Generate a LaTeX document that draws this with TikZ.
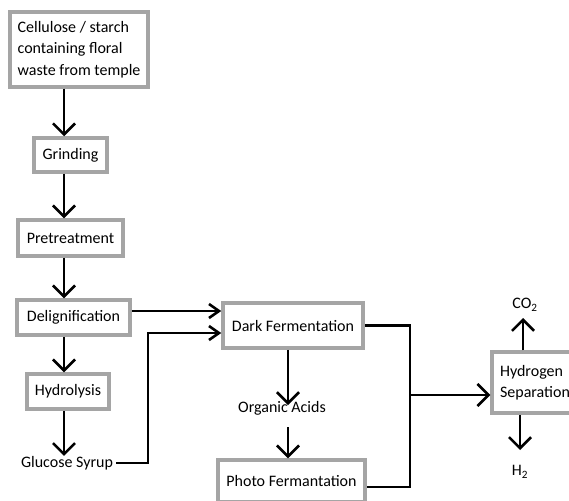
\documentclass[tikz,border=0pt]{standalone}
\usepackage{fontspec}
\setmainfont{Carlito}
\usetikzlibrary{arrows.meta}
\definecolor{boxgray}{RGB}{165,165,165}
\begin{document}
\begin{tikzpicture}[x=1pt,y=-1pt,
  box/.style={draw=boxgray,line width=3.5pt,fill=white,
    font=\fontsize{16}{21.5}\selectfont,inner sep=0pt,minimum height=#1},
  box/.default=35pt,
  lbl/.style={font=\fontsize{16}{21.5}\selectfont,inner sep=0pt},
  conn/.style={line width=2.6pt,black},
  arr/.style={conn,-{Straight Barb[length=11pt,width=22pt,line width=2.6pt]}},
  arrs/.style={conn,-{Straight Barb[length=10pt,width=14pt,line width=2.6pt]}}]
\useasboundingbox (0,0) rectangle (569,500);
\clip (0,0) rectangle (569,500);
\fill[white] (0,0) rectangle (569,500);
% nodes
\node[box=75pt,minimum width=138pt,align=left] (src) at (79,49.5)
  {Cellulose / starch\\containing floral\\waste from temple};
\node[box=34pt,minimum width=73pt] (grind) at (70.5,155) {Grinding};
\node[box=36pt,minimum width=105pt] (pre) at (70.5,238) {Pretreatment};
\node[box=35pt,minimum width=113pt] (del) at (73.5,317.5) {Delignification};
\node[box=35pt,minimum width=82pt] (hyd) at (68,391.5) {Hydrolysis};
\node[lbl] (gs) at (67,463) {Glucose Syrup};
\node[box=45pt,minimum width=140pt] (dark) at (293,325.5) {Dark Fermentation};
\node[lbl] (oa) at (282,408) {Organic Acids};
\node[box=42pt,minimum width=147pt] (photo) at (291.5,481) {Photo Fermantation};
\node[box=61pt,minimum width=86pt,align=left] (hs) at (535,382.5)
  {Hydrogen\\Separation};
\node[lbl] (co2) at (525,305) {CO\textsubscript{2}};
\node[lbl] (h2) at (520,472) {H\textsubscript{2}};
% helper coordinates
\coordinate (col) at (64,0);
\coordinate (r1) at (0,311);
\coordinate (g1) at (148,333);
\coordinate (oc) at (288,0);
\coordinate (oaTip) at (288,405);
\coordinate (oaTop) at (288,427);
\coordinate (j2) at (410,487);
\coordinate (jm) at (410,395);
\coordinate (cx) at (523,318);
\coordinate (hx) at (520,450);
% connectors
\draw[arr] (src.south -| col) -- (grind.north -| col);
\draw[arr] (grind.south -| col) -- (pre.north -| col);
\draw[arr] (pre.south -| col) -- (del.north -| col);
\draw[arr] (del.south -| col) -- (hyd.north -| col);
\draw[arr] (hyd.south -| col) -- (gs.north -| col);
\draw[arrs] (del.east |- r1) -- (dark.west |- r1);
\draw[arrs] ([xshift=3pt]gs.east) -| (g1) -- (dark.west |- g1);
\draw[arr] (dark.south -| oc) -- (oaTip);
\draw[arr] (oaTop) -- (photo.north -| oc);
\draw[conn] (dark.east) -| (j2) -- (photo.east |- j2);
\draw[arr] (jm) -- (hs.west |- jm);
\draw[arr] (hs.north -| cx) -- (cx);
\draw[arr] (hs.south -| hx) -- (hx);
\end{tikzpicture}
\end{document}
